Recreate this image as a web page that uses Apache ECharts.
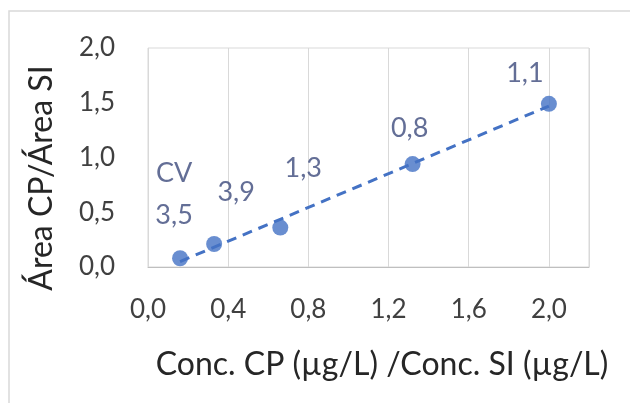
<!DOCTYPE html>
<html>
<head>
<meta charset="utf-8">
<script src="https://cdn.jsdelivr.net/npm/echarts@6/dist/echarts.min.js"></script>
<style>
html,body{margin:0;padding:0;background:#fff;}
#c{width:630px;height:403px;}
</style>
</head>
<body>
<div id="c"></div>
<script>
// Data
var concRatio = [0.16, 0.33, 0.66, 1.32, 2.0];
var areaRatio = [0.08, 0.21, 0.36, 0.94, 1.49];
var cvLabels = ['3,5', '3,9', '1,3', '0,8', '1,1'];
var trendX = [0.16, 2.0];
var trendY = [0.05, 1.47];
var xTicks = [0, 0.4, 0.8, 1.2, 1.6, 2.0];
var yTicks = [0, 0.5, 1.0, 1.5, 2.0];

// label placement (style only)
var labelOffsets = [[-6, -43], [22, -52], [23, -59], [-3, -36], [-24, -31]];

var FONT = 'Lato';
var fmt = function (v) { return v.toFixed(1).replace('.', ','); };

var chart = echarts.init(document.getElementById('c'), null, {renderer: 'canvas'});

var scatterData = concRatio.map(function (x, i) {
  return {
    value: [x, areaRatio[i]],
    label: {
      show: true,
      position: 'inside',
      offset: i === 0 ? [labelOffsets[i][0], labelOffsets[i][1] - 21] : labelOffsets[i],
      formatter: i === 0 ? '{cv|CV}\n' + cvLabels[i] : cvLabels[i],
      lineHeight: 42
    }
  };
});

var option = {
  animation: false,
  backgroundColor: '#ffffff',
  grid: {left: 148, top: 48, right: 41, bottom: 136, show: true, borderColor: '#d9d9d9', borderWidth: 1, containLabel: false},
  xAxis: {
    type: 'value', min: 0, max: 2.2, interval: 0.4,
    axisLine: {show: true, lineStyle: {color: '#bfbfbf', width: 1}},
    axisTick: {show: false},
    splitLine: {show: true, lineStyle: {color: '#d9d9d9', width: 1}},
    axisLabel: {
      fontFamily: FONT, fontSize: 26, color: '#404040', margin: 30,
      showMaxLabel: false,
      formatter: function (v) { return xTicks.some(function (t) { return Math.abs(t - v) < 1e-6; }) ? fmt(v) : ''; }
    }
  },
  yAxis: {
    type: 'value', min: 0, max: 2.0, interval: 0.5,
    axisLine: {show: false},
    axisTick: {show: false},
    splitLine: {show: false},
    axisLabel: {
      fontFamily: FONT, fontSize: 26, color: '#404040', margin: 33,
      formatter: function (v) { return yTicks.some(function (t) { return Math.abs(t - v) < 1e-6; }) ? fmt(v) : ''; }
    }
  },
  graphic: [
    {type: 'rect', shape: {x: 9, y: 11, width: 700, height: 500}, style: {fill: 'none', stroke: '#d9d9d9', lineWidth: 1.5}, silent: true, z: -10},
    {type: 'text', x: 382, y: 365, style: {text: 'Conc. CP (µg/L) /Conc. SI (µg/L)', font: '32px ' + FONT, fill: '#262626', textAlign: 'center', textVerticalAlign: 'middle'}},
    {type: 'text', x: 42, y: 178, rotation: Math.PI / 2, style: {text: 'Área CP/Área SI', font: '32px ' + FONT, fill: '#262626', textAlign: 'center', textVerticalAlign: 'middle'}}
  ],
  series: [
    {
      type: 'scatter', data: scatterData, symbol: 'circle', symbolSize: 16,
      itemStyle: {color: '#4472C4'},
      label: {fontFamily: FONT, fontSize: 27, color: '#3C4A7C', rich: {cv: {fontFamily: FONT, fontSize: 27, color: '#3C4A7C', lineHeight: 42}}},
      z: 3
    },
    {
      type: 'line', data: trendX.map(function (x, i) { return [x, trendY[i]]; }),
      symbol: 'none', lineStyle: {color: '#4472C4', width: 3, type: [10, 7]}, z: 4
    }
  ]
};
chart.setOption(option);
</script>
</body>
</html>
